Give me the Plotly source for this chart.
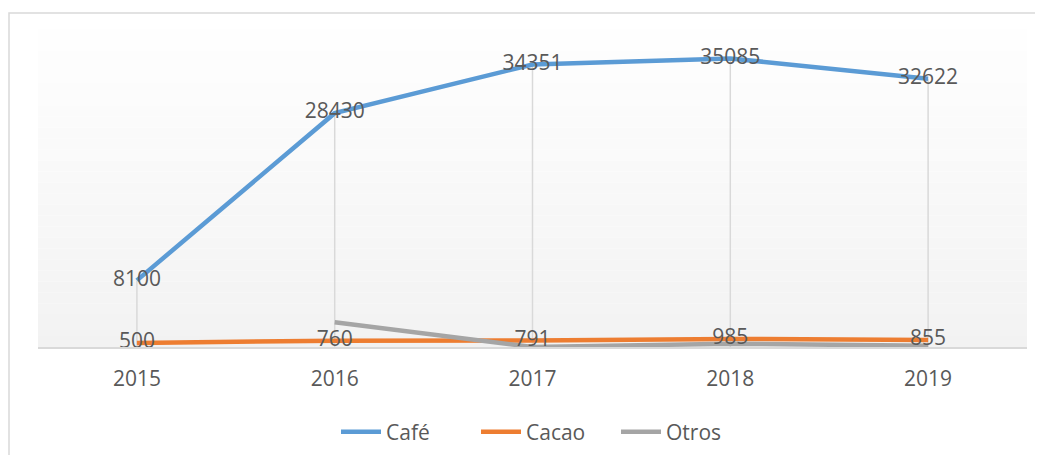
import plotly.graph_objects as go

years = ["2015", "2016", "2017", "2018", "2019"]
cafe = [8100, 28430, 34351, 35085, 32622]
cacao = [500, 760, 791, 985, 855]
otros = [None, 3000, 0, 400, 150]

# page offset (default body margin) = 8px
OFF = 8
W, H = 1043 - 2 * OFF, 463 - 2 * OFF
# target pixel positions in the screenshot
px_left, px_right, px_top, px_base = 38, 1027, 18, 347
L = px_left - OFF
R = (OFF + W) - px_right
T = px_top - OFF
B = (OFF + H) - px_base
plot_w = W - L - R
plot_h = H - T - B


def paper_x(px):
    return (px - px_left) / plot_w


def paper_y(py):
    return (px_base - py) / plot_h


font_fam = "Open Sans, Liberation Sans, sans-serif"
txt_col = "#595959"

fig = go.Figure()

# drop lines from highest series down to axis
fig.add_trace(go.Scatter(
    x=years, y=cafe, mode="markers",
    marker=dict(size=1, opacity=0),
    error_y=dict(type="data", symmetric=False, array=[0] * len(cafe),
                 arrayminus=cafe, width=0, color="#d9d9d9", thickness=1.5),
    showlegend=False, hoverinfo="skip"))

fig.add_trace(go.Scatter(x=years, y=cafe, mode="lines", name="Café",
                         line=dict(color="#5b9bd5", width=4.5)))
fig.add_trace(go.Scatter(x=years, y=cacao, mode="lines", name="Cacao",
                         line=dict(color="#ed7d31", width=4.5)))
fig.add_trace(go.Scatter(x=years, y=otros, mode="lines", name="Otros",
                         line=dict(color="#a5a5a5", width=4.5)))

# data labels on top
for vals in (cafe, cacao):
    fig.add_trace(go.Scatter(
        x=years, y=vals, mode="text", text=[str(v) for v in vals],
        textposition="middle center",
        textfont=dict(family=font_fam, size=21, color=txt_col),
        showlegend=False, hoverinfo="skip"))

# gradient background of plot area (white top -> light gray bottom)
shapes = []
n = 30
for i in range(n):
    f = (i + 0.5) / n
    c = int(round(255 - (255 - 242) * f))
    shapes.append(dict(type="rect", xref="paper", yref="paper",
                       x0=0, x1=1, y0=1 - (i + 1) / n, y1=1 - i / n,
                       fillcolor=f"rgb({c},{c},{c})", line=dict(width=0),
                       layer="below"))
# chart outer border
shapes.append(dict(type="rect", xref="paper", yref="paper",
                   x0=paper_x(9), x1=1.2,
                   y0=-1, y1=paper_y(13),
                   line=dict(color="#d9d9d9", width=1.5),
                   fillcolor="rgba(0,0,0,0)", layer="below"))

fig.update_layout(
    width=W, height=H,
    margin=dict(l=L, r=R, t=T, b=B, autoexpand=False),
    paper_bgcolor="white", plot_bgcolor="white",
    shapes=shapes,
    font=dict(family=font_fam, size=21, color=txt_col),
    xaxis=dict(type="category", range=[-0.5, 4.5], showgrid=False,
               zeroline=False, automargin=False,
               showline=True, linecolor="#d9d9d9", linewidth=1.5,
               ticks="", ticklabelstandoff=12,
               tickfont=dict(family=font_fam, size=21, color=txt_col)),
    yaxis=dict(range=[0, 40000], visible=False, showgrid=False,
               automargin=False),
    legend=dict(orientation="h", x=paper_x(336), xanchor="left",
                y=paper_y(432), yanchor="middle",
                font=dict(family=font_fam, size=21, color=txt_col),
                entrywidth=85, entrywidthmode="pixels",
                itemwidth=40, tracegroupgap=0),
    showlegend=True,
)

fig.write_html("out.html")
